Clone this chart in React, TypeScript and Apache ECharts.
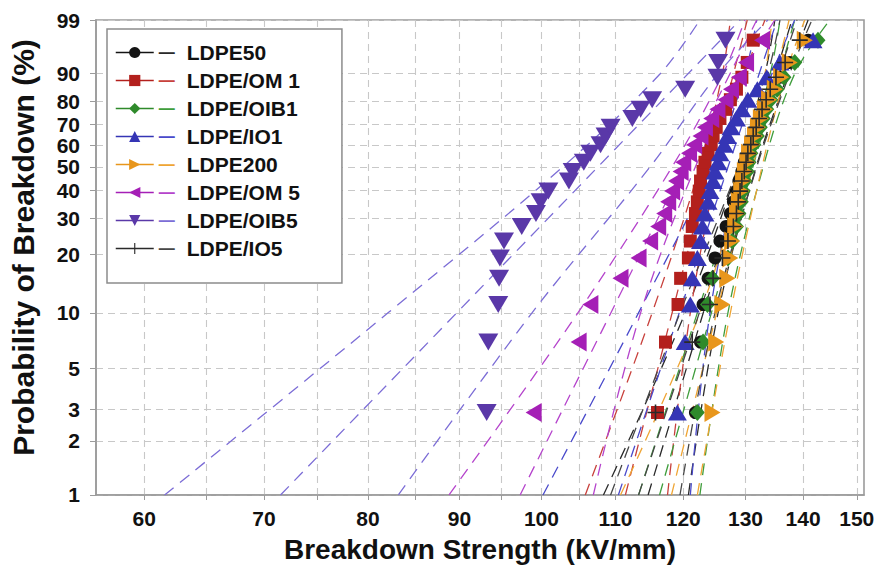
import React, { useEffect, useRef } from "react";
import * as echarts from "echarts";

// Bernard median-rank plotting positions (%) for the 24 samples of every set
const RANK_F = [2.87, 6.97, 11.07, 15.16, 19.26, 23.36, 27.46, 31.56, 35.66, 39.75, 43.85, 47.95,
  52.05, 56.15, 60.25, 64.34, 68.44, 72.54, 76.64, 80.74, 84.84, 88.93, 93.03, 97.13];

const X_MIN = 56.4;
const X_MAX = 151.4;
const X_GRID = [60, 65, 70, 75, 80, 85, 90, 95, 100, 105, 110, 120, 130, 140, 150];
const X_LABELS = [60, 70, 80, 90, 100, 110, 120, 130, 140, 150];
const Y_TICKS = [1, 2, 3, 5, 10, 20, 30, 40, 50, 60, 70, 80, 90, 99];

const NAMES = ["LDPE50", "LDPE/OM 1", "LDPE/OIB1", "LDPE/IO1", "LDPE200", "LDPE/OM 5", "LDPE/OIB5", "LDPE/IO5"];

// breakdown strengths (kV/mm), sorted, one per rank
const LDPE50 = [121.9, 122.7, 123.1, 123.9, 125.0, 125.8, 126.8, 127.5, 128.0, 128.5, 128.9, 129.4, 129.8, 130.3, 130.8, 131.3, 131.8, 132.5, 133.1, 133.8, 134.7, 135.9, 137.6, 140.9];
const OM1 = [116.1, 117.3, 119.2, 119.6, 120.8, 121.1, 121.4, 121.9, 122.2, 122.5, 122.7, 123.1, 123.4, 123.9, 124.4, 124.7, 125.2, 125.8, 126.7, 127.5, 128.5, 129.4, 130.3, 131.3];
const OIB1 = [122.2, 123.1, 123.8, 124.6, 127.1, 127.8, 128.5, 128.9, 129.3, 129.6, 129.9, 130.3, 130.6, 130.9, 131.4, 132.0, 132.5, 133.0, 133.6, 134.3, 135.4, 136.6, 138.5, 142.7];
const IO1 = [119.1, 120.3, 121.1, 121.4, 122.2, 122.7, 123.0, 123.4, 123.9, 124.2, 124.7, 125.0, 125.5, 125.8, 126.5, 127.0, 127.6, 128.5, 129.4, 130.4, 132.0, 133.6, 135.9, 141.8];
const LDPE200 = [124.6, 125.2, 126.2, 127.0, 127.5, 127.8, 128.3, 128.6, 128.9, 129.3, 129.6, 129.9, 130.3, 130.6, 131.1, 131.6, 132.1, 132.6, 133.3, 134.0, 135.0, 136.1, 137.6, 140.3];
const OM5 = [99.0, 104.9, 106.5, 110.7, 113.3, 115.0, 116.2, 117.1, 117.7, 118.3, 118.9, 119.6, 120.0, 120.9, 121.7, 122.7, 123.4, 124.4, 125.4, 126.7, 127.6, 128.9, 130.1, 132.8];
const OIB5 = [93.2, 93.4, 94.6, 94.7, 94.8, 95.3, 97.5, 99.3, 99.9, 100.9, 103.6, 104.1, 105.6, 106.5, 107.9, 108.6, 109.3, 112.4, 113.6, 115.3, 120.3, 125.4, 125.5, 126.7];
const IO5 = [115.8, 121.4, 124.2, 124.7, 126.2, 127.1, 128.0, 128.5, 128.8, 129.1, 129.4, 129.8, 130.1, 130.4, 130.9, 131.3, 131.8, 132.3, 132.8, 133.5, 134.2, 135.2, 136.8, 139.4];

// Weibull fit lines: strength at 1 % and 99 %
const FIT_F = [1, 99];
const FIT_LDPE50 = [114.7, 138.0];
const FIT_OM1 = [111.4, 130.3];
const FIT_OIB1 = [116.4, 138.5];
const FIT_IO1 = [110.4, 135.4];
const FIT_LDPE200 = [118.2, 137.5];
const FIT_OM5 = [97.3, 131.9];
const FIT_OIB5 = [71.5, 129.1];
const FIT_IO5 = [113.3, 138.9];

// 95 % confidence bounds: strength at these probabilities
const BOUND_F = [1, 10, 50, 90, 99];
const LOW_LDPE50 = [108.3, 120.3, 128.8, 133.3, 135.0];
const UP_LDPE50 = [120.8, 125.5, 131.8, 137.3, 140.9];
const LOW_OM1 = [105.8, 115.3, 122.6, 126.2, 127.5];
const UP_OM1 = [117.6, 121.1, 125.5, 129.9, 133.3];
const LOW_OIB1 = [113.3, 122.2, 129.8, 134.2, 135.9];
const UP_OIB1 = [122.6, 127.1, 133.0, 138.5, 144.9];
const LOW_IO1 = [100.2, 113.3, 124.5, 129.9, 131.9];
const UP_IO1 = [121.1, 124.2, 129.1, 134.5, 138.5];
const LOW_LDPE200 = [110.7, 122.6, 129.9, 133.3, 134.5];
const UP_LDPE200 = [122.2, 127.5, 132.8, 136.9, 140.3];
const LOW_OM5 = [88.8, 104.8, 118.3, 126.3, 129.9];
const UP_OM5 = [106.9, 113.6, 121.9, 129.4, 135.0];
const LOW_OIB5 = [61.6, 82.1, 102.8, 116.5, 122.6];
const UP_OIB5 = [83.2, 98.8, 115.0, 125.5, 133.8];
const LOW_IO5 = [109.3, 119.5, 128.8, 133.8, 135.9];
const UP_IO5 = [119.5, 125.0, 131.9, 137.6, 141.6];

const POINTS = [LDPE50, OM1, OIB1, IO1, LDPE200, OM5, OIB5, IO5];
const FITS = [FIT_LDPE50, FIT_OM1, FIT_OIB1, FIT_IO1, FIT_LDPE200, FIT_OM5, FIT_OIB5, FIT_IO5];
const LOWS = [LOW_LDPE50, LOW_OM1, LOW_OIB1, LOW_IO1, LOW_LDPE200, LOW_OM5, LOW_OIB5, LOW_IO5];
const UPS = [UP_LDPE50, UP_OM1, UP_OIB1, UP_IO1, UP_LDPE200, UP_OM5, UP_OIB5, UP_IO5];

const PLUS = "path://M9,0H11V9H20V11H11V20H9V11H0V9H9Z";
const STYLES = [
  { color: "#141414", line: "#2a2a2a", symbol: "circle", size: 13, rotate: 0 },
  { color: "#b3201d", line: "#c8413c", symbol: "rect", size: 13, rotate: 0 },
  { color: "#2f8a2b", line: "#3f9d3c", symbol: "diamond", size: [15, 17], rotate: 0 },
  { color: "#3535b5", line: "#4a4acb", symbol: "triangle", size: [19, 16], rotate: 0 },
  { color: "#e8961c", line: "#efa534", symbol: "triangle", size: [19, 16], rotate: -90 },
  { color: "#a51fb6", line: "#b544cc", symbol: "triangle", size: [19, 16], rotate: 90 },
  { color: "#5a38a8", line: "#7c6dd6", symbol: "triangle", size: [20, 17], rotate: 180 },
  { color: "#2a2a2a", line: "#474747", symbol: PLUS, size: 16, rotate: 0 },
];

const FONT = "'Liberation Sans', Arial, Helvetica, sans-serif";
const lx = (v: number) => Math.log10(v);
const wb = (f: number) => Math.log(-Math.log(1 - f / 100));

export default function App() {
  const ref = useRef<HTMLDivElement>(null);
  useEffect(() => {
    if (!ref.current) return;
    const chart = echarts.init(ref.current, undefined, { renderer: "svg" });
    const series: any[] = [];
    NAMES.forEach((name, i) => {
      const st = STYLES[i];
      const dash = { color: st.line, width: 1.3, type: [12, 8] };
      series.push({
        type: "line", name: name + " fit", data: FIT_F.map((f, k) => [lx(FITS[i][k]), wb(f)]),
        showSymbol: false, symbol: "none", lineStyle: dash, silent: true, z: 2,
      });
      series.push({
        type: "line", name: name + " lower", data: BOUND_F.map((f, k) => [lx(LOWS[i][k]), wb(f)]),
        showSymbol: false, symbol: "none", smooth: 0.35, lineStyle: dash, silent: true, z: 2,
      });
      series.push({
        type: "line", name: name + " upper", data: BOUND_F.map((f, k) => [lx(UPS[i][k]), wb(f)]),
        showSymbol: false, symbol: "none", smooth: 0.35, lineStyle: dash, silent: true, z: 2,
      });
    });
    NAMES.forEach((name, i) => {
      const st = STYLES[i];
      series.push({
        type: "line", name, data: POINTS[i].map((v, k) => [lx(v), wb(RANK_F[k])]),
        symbol: st.symbol, symbolSize: st.size, symbolRotate: st.rotate, showAllSymbol: true,
        itemStyle: { color: st.color, opacity: 1 },
        lineStyle: { color: st.color, width: 1.5, opacity: 0 },
        silent: true, z: 3 + i,
      });
    });
    const rich: any = {
      t: { fontFamily: FONT, fontWeight: "bold", fontSize: 21, color: "#111", padding: [0, 0, 0, 12] },
    };
    STYLES.forEach((st, i) => {
      rich["d" + i] = { fontFamily: FONT, fontSize: 16, color: st.line };
    });
    chart.setOption({
      animation: false,
      backgroundColor: "#fff",
      grid: { left: 94, right: 17, top: 20, bottom: 76, show: true, borderColor: "#9b9b9b", borderWidth: 1.6, backgroundColor: "transparent" },
      legend: {
        data: NAMES, orient: "vertical", left: 107, top: 29,
        backgroundColor: "#fff", borderColor: "#8c8c8c", borderWidth: 1.5,
        padding: [13, 42, 24, 8], itemWidth: 38, itemHeight: 14, itemGap: 7,
        lineStyle: { opacity: 1, width: 1.5 },
        selectedMode: false,
        textStyle: { fontFamily: FONT, fontWeight: "bold", fontSize: 21, color: "#111", lineHeight: 20, rich },
        formatter: (name: string) => `{d${NAMES.indexOf(name)}|—}{t|${name}}`,
      },
      xAxis: {
        type: "value", min: lx(X_MIN), max: lx(X_MAX),
        name: "Breakdown Strength (kV/mm)", nameLocation: "middle", nameGap: 40,
        nameTextStyle: { fontFamily: FONT, fontWeight: "bold", fontSize: 28, color: "#111" },
        axisLine: { show: true, onZero: false, lineStyle: { color: "#9b9b9b", width: 1.6 } },
        axisTick: { show: true, length: 5, lineStyle: { color: "#9b9b9b" }, customValues: X_GRID.map(lx) },
        axisLabel: {
          customValues: X_LABELS.map(lx), margin: 13,
          fontFamily: FONT, fontWeight: "bold", fontSize: 21, color: "#111",
          formatter: (v: number) => String(Math.round(Math.pow(10, v))),
        },
        splitLine: { show: true, lineStyle: { color: "#c8c8c8", type: [7, 5], width: 1.1 } },
      },
      yAxis: {
        type: "value", min: wb(1) - 0.0001, max: wb(99) + 0.0001,
        name: "Probability of Breakdown (%)", nameLocation: "middle", nameGap: 58, nameRotate: 90,
        nameTextStyle: { fontFamily: FONT, fontWeight: "bold", fontSize: 30, color: "#111", padding: [0, 0, 0, 20] },
        axisLine: { show: true, onZero: false, lineStyle: { color: "#9b9b9b", width: 1.6 } },
        axisTick: { show: true, length: 6, lineStyle: { color: "#9b9b9b" }, customValues: Y_TICKS.map(wb) },
        axisLabel: {
          customValues: Y_TICKS.map(wb), margin: 16,
          fontFamily: FONT, fontWeight: "bold", fontSize: 21, color: "#111",
          formatter: (v: number) => String(Math.round(100 * (1 - Math.exp(-Math.exp(v))))),
        },
        splitLine: { show: true, lineStyle: { color: "#c8c8c8", type: [7, 5], width: 1.1 } },
      },
      series,
    });
    return () => chart.dispose();
  }, []);
  return (
    <div
      ref={ref}
      style={{ position: "fixed", left: 0, top: 0, width: 881, height: 571, background: "#fff" }}
    />
  );
}
